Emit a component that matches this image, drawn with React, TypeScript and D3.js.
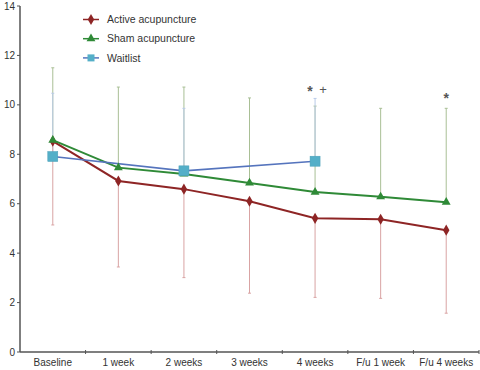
import * as d3 from "d3";

const categories = ["Baseline", "1 week", "2 weeks", "3 weeks", "4 weeks", "F/u 1 week", "F/u 4 weeks"];

const activeMean = [8.53, 6.92, 6.59, 6.1, 5.41, 5.37, 4.93];
const activeLow = [5.14, 3.44, 3.01, 2.38, 2.21, 2.17, 1.57];

const shamMean = [8.57, 7.46, 7.2, 6.84, 6.47, 6.28, 6.06];
const shamHigh = [11.5, 10.72, 10.72, 10.28, 9.95, 9.86, 9.86];

const waitCats = ["Baseline", "2 weeks", "4 weeks"];
const waitMean = [7.91, 7.33, 7.72];
const waitHigh = [10.47, 9.86, 10.26];

const yTicks = [0, 2, 4, 6, 8, 10, 12, 14];

const notes = [
  { cat: "4 weeks", text: "*", dx: -5, value: 10.6 },
  { cat: "4 weeks", text: "+", dx: 8, value: 10.6 },
  { cat: "F/u 4 weeks", text: "*", dx: 0, value: 10.3 },
];

const W = 480;
const H = 370;
const left = 20;
const right = 479;
const top = 6;
const bottom = 352;

const activeColor = "#8e2525";
const activeBar = "#d9a3a3";
const shamColor = "#2f8a37";
const shamBar = "#a9bf95";
const waitLine = "#5574bd";
const waitFill = "#54afc8";
const waitBar = "#b9cbe8";
const axisColor = "#555";

export default function App() {
  const x = d3.scaleBand<string>().domain(categories).range([left, right]).padding(0);
  const y = d3.scaleLinear().domain([0, 14]).range([bottom, top]);
  const cx = (c: string) => (x(c) ?? 0) + x.bandwidth() / 2;

  const line = d3
    .line<[string, number]>()
    .x((d) => cx(d[0]))
    .y((d) => y(d[1]));

  const active = categories.map((c, i) => [c, activeMean[i]] as [string, number]);
  const sham = categories.map((c, i) => [c, shamMean[i]] as [string, number]);
  const wait = waitCats.map((c, i) => [c, waitMean[i]] as [string, number]);

  const font = "'Liberation Sans', Arial, sans-serif";

  const errBar = (c: string, v0: number, v1: number, color: string, key: string) => (
    <g key={key}>
      <line x1={cx(c)} x2={cx(c)} y1={y(v0)} y2={y(v1)} stroke={color} strokeWidth={1} />
      <line x1={cx(c) - 1.5} x2={cx(c) + 1.5} y1={y(v1)} y2={y(v1)} stroke={color} strokeWidth={1} />
    </g>
  );

  const diamond = d3.symbol(d3.symbolDiamond, 36)();
  const triangle = d3.symbol(d3.symbolTriangle, 34)();

  return (
    <svg
      width={W}
      height={H}
      style={{ position: "absolute", left: 0, top: 0, background: "#fff" }}
      fontFamily={font}
    >
      {/* error bars */}
      {categories.map((c, i) => errBar(c, shamMean[i], shamHigh[i], shamBar, "s" + i))}
      {waitCats.map((c, i) => errBar(c, waitMean[i], waitHigh[i], waitBar, "w" + i))}
      {categories.map((c, i) => errBar(c, activeMean[i], activeLow[i], activeBar, "a" + i))}

      {/* lines */}
      <path d={line(active) ?? ""} fill="none" stroke={activeColor} strokeWidth={2} />
      <path d={line(sham) ?? ""} fill="none" stroke={shamColor} strokeWidth={2} />
      <path d={line(wait) ?? ""} fill="none" stroke={waitLine} strokeWidth={1.6} />

      {/* markers */}
      {active.map((d, i) => (
        <path key={"am" + i} d={diamond ?? ""} transform={`translate(${cx(d[0])},${y(d[1])})`} fill={activeColor} />
      ))}
      {sham.map((d, i) => (
        <path key={"sm" + i} d={triangle ?? ""} transform={`translate(${cx(d[0])},${y(d[1])})`} fill={shamColor} />
      ))}
      {wait.map((d, i) => (
        <rect
          key={"wm" + i}
          x={cx(d[0]) - 5}
          y={y(d[1]) - 5}
          width={10}
          height={10}
          fill={waitFill}
          stroke="#4a9fb8"
          strokeWidth={0.5}
        />
      ))}

      {/* annotations */}
      {notes.map((n, i) => (
        <text
          key={"n" + i}
          x={cx(n.cat) + n.dx}
          y={y(n.value) + (n.text === "*" ? 6 : 4)}
          textAnchor="middle"
          fontSize={n.text === "*" ? 14 : 13}
          fill="#555"
          fontWeight={n.text === "*" ? "bold" : "normal"}
        >
          {n.text}
        </text>
      ))}

      {/* y axis */}
      <line x1={left} x2={left} y1={top} y2={bottom} stroke={axisColor} strokeWidth={1.5} />
      {yTicks.map((t) => (
        <g key={"yt" + t}>
          <line x1={left - 3} x2={left} y1={y(t)} y2={y(t)} stroke={axisColor} strokeWidth={1} />
          <text x={left - 5} y={y(t)} dy="0.35em" textAnchor="end" fontSize={10} fill="#333">
            {t}
          </text>
        </g>
      ))}

      {/* x axis */}
      <line x1={left} x2={right} y1={bottom} y2={bottom} stroke={axisColor} strokeWidth={1.5} />
      {categories.map((c) => (
        <g key={"xt" + c}>
          <line
            x1={(x(c) ?? 0) + x.bandwidth()}
            x2={(x(c) ?? 0) + x.bandwidth()}
            y1={bottom - 2}
            y2={bottom + 2}
            stroke={axisColor}
            strokeWidth={1}
          />
          <text x={cx(c)} y={bottom + 14} textAnchor="middle" fontSize={10} fill="#333">
            {c}
          </text>
        </g>
      ))}

      {/* legend */}
      {[
        { label: "Active acupuncture", color: activeColor, kind: "d" },
        { label: "Sham acupuncture", color: shamColor, kind: "t" },
        { label: "Waitlist", color: waitLine, kind: "s" },
      ].map((l, i) => {
        const ly = 19.5 + i * 19.2;
        return (
          <g key={"lg" + i}>
            <line x1={83} x2={99} y1={ly} y2={ly} stroke={l.color} strokeWidth={1.5} />
            {l.kind === "d" && <path d={diamond ?? ""} transform={`translate(91,${ly})`} fill={l.color} />}
            {l.kind === "t" && <path d={triangle ?? ""} transform={`translate(91,${ly})`} fill={l.color} />}
            {l.kind === "s" && <rect x={87.5} y={ly - 3.5} width={7} height={7} fill={waitFill} />}
            <text x={107} y={ly} dy="0.35em" fontSize={10.5} fill="#333">
              {l.label}
            </text>
          </g>
        );
      })}
    </svg>
  );
}
